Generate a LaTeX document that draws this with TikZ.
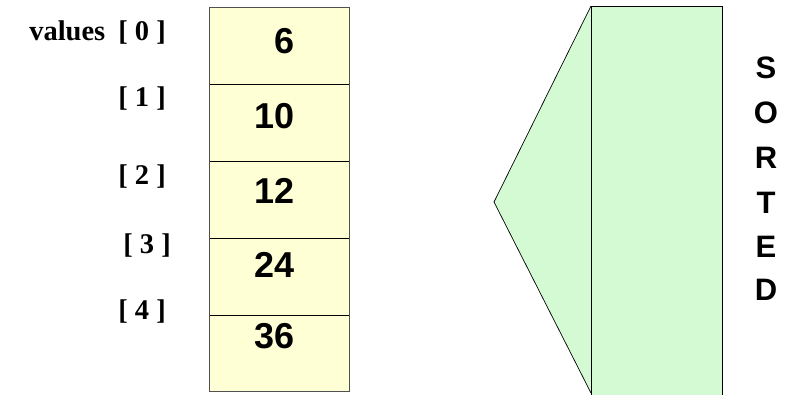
\documentclass[tikz,border=0pt]{standalone}
\usepackage{fontspec}
\setmainfont{Liberation Serif}
\newfontfamily\arialf{Liberation Sans}
\definecolor{cellyellow}{RGB}{255,255,214}
\definecolor{sortgreen}{RGB}{212,250,212}
\definecolor{edgegray}{RGB}{80,80,80}
\tikzset{
  cellbox/.style={draw=black, fill=cellyellow, minimum width=140pt, minimum height=77pt, inner sep=0pt, line width=0.7pt},
  numtxt/.style={font=\arialf\bfseries\fontsize{36}{36}\selectfont, anchor=east, inner sep=0pt},
  idxtxt/.style={font=\bfseries\fontsize{28.5}{28.5}\selectfont, anchor=east, inner sep=0pt},
  sorttxt/.style={font=\arialf\bfseries\fontsize{31}{31}\selectfont, inner sep=0pt},
  shapeline/.style={draw=black, line width=0.7pt}
}
\begin{document}
\begin{tikzpicture}[x=1pt,y=-1pt]
\useasboundingbox (0,0) rectangle (787,394);
% array cells
\node[cellbox, anchor=north west] (c0) at (209,7) {};
\node[cellbox, anchor=north west] (c1) at (209,84) {};
\node[cellbox, anchor=north west] (c2) at (209,161) {};
\node[cellbox, anchor=north west] (c3) at (209,238) {};
\node[cellbox, anchor=north west, minimum height=76pt] (c4) at (209,315) {};
\draw[edgegray, line width=0.8pt] (c0.north west) rectangle (c4.south east);
% numbers
\node[numtxt] (n0) at (295,41) {6};
\node[numtxt] (n1) at (295,116) {10};
\node[numtxt] (n2) at (295,191) {12};
\node[numtxt] (n3) at (295,265) {24};
\node[numtxt] (n4) at (295,336) {36};
% index labels
\node[idxtxt] (l0) at (166,33) {values\hspace{13pt}[ 0 ]};
\node[idxtxt] (l1) at (166,99) {[ 1 ]};
\node[idxtxt] (l2) at (166,177) {[ 2 ]};
\node[idxtxt] (l3) at (171,246) {[ 3 ]};
\node[idxtxt] (l4) at (166,312) {[ 4 ]};
% sorted shape
\coordinate (ttop) at (591,6);
\coordinate (ttip) at (494,202);
\coordinate (tbot) at (591,393);
\filldraw[shapeline, fill=sortgreen] (ttop) -- (ttip) -- (tbot);
\fill[sortgreen] (591,6) rectangle (722,396);
\draw[shapeline] (591,396) -- (591,6) -- (722,6) -- (722,396);
% SORTED
\node[sorttxt] (s1) at (766,68) {S};
\node[sorttxt] (s2) at (766,113) {O};
\node[sorttxt] (s3) at (766,158) {R};
\node[sorttxt] (s4) at (766,203) {T};
\node[sorttxt] (s5) at (766,247) {E};
\node[sorttxt] (s6) at (766,290) {D};
\end{tikzpicture}
\end{document}
